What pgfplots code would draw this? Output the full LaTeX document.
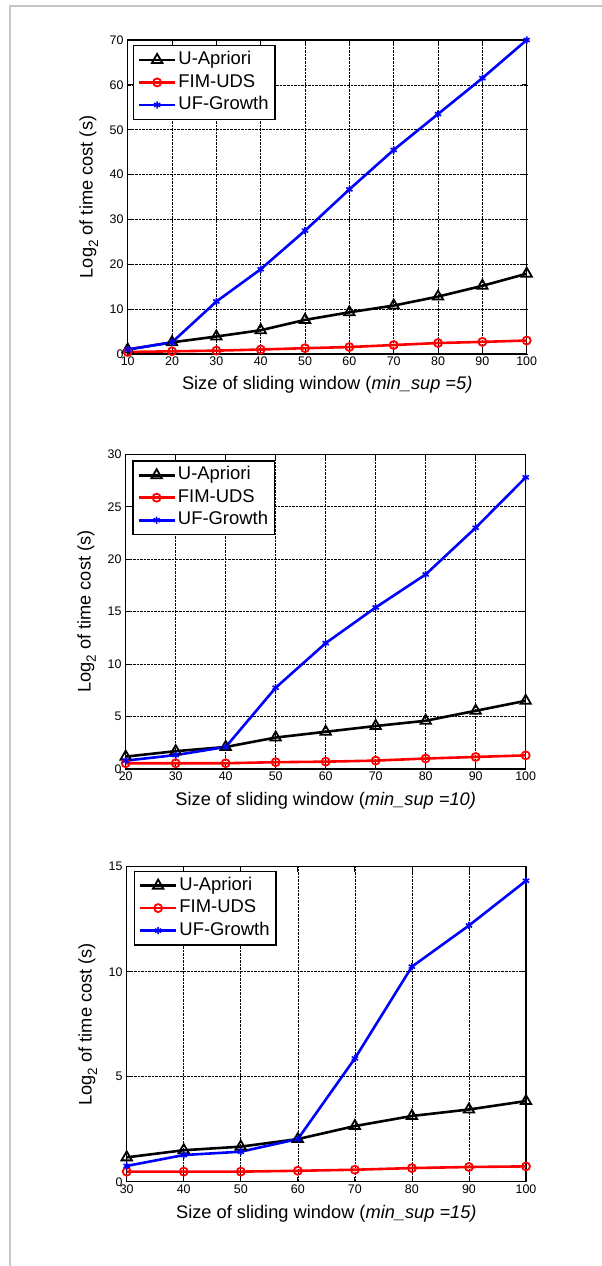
\documentclass[border=0pt]{standalone}
\usepackage{fontspec}
\setmainfont{Liberation Sans}
\usepackage{pgfplots}
\pgfplotsset{compat=1.18}
\pgfplotsset{
  myax/.style={
    scale only axis, anchor=south west, clip=false,
    grid=major, major grid style={densely dotted, black, line width=0.6bp},
    axis line style={line width=1.2bp},
    tick style={black, line width=0.8bp}, major tick length=5bp, tick align=inside,
    /pgf/number format/assume math mode=true,
    tick label style={font=\fontsize{12.5}{13}\selectfont},
    xticklabel style={anchor=north, inner sep=1bp, yshift=-2bp},
    yticklabel style={anchor=east, inner sep=1bp, xshift=-3bp},
    label style={font=\fontsize{18.3}{20}\selectfont},
    ylabel={Log\raisebox{-0.3em}{\fontsize{13.5}{13.5}\selectfont 2} of time cost (s)},
    ylabel style={at={(axis description cs:-0.088,0.5)}, anchor=base, rotate=0},
    xlabel style={anchor=base},
    legend cell align=left,
    legend style={font=\fontsize{18.5}{20}\selectfont, draw=black, line width=1.3bp, fill=white,
      inner xsep=4.5bp, inner ysep=3bp, row sep=0bp,
      nodes={inner sep=2bp, text height=14bp, text depth=4.5bp},
      anchor=north west},
    legend image code/.code={%
      \draw (0bp,0bp) -- (36bp,0bp);
      \draw[mark repeat=2,mark phase=2] plot coordinates {(0bp,0bp) (18bp,0bp) (36bp,0bp)};},
  },
  ua/.style={black, line width=2.6bp, mark=triangle, mark size=6bp, mark options={solid, line width=1.8bp}},
  fim/.style={red, line width=2.6bp, mark=o, mark size=4bp, mark options={solid, line width=1.8bp}},
  uf/.style={blue, line width=2.6bp, mark=asterisk, mark size=3.6bp, mark options={solid, line width=1.6bp}},
}
\begin{document}
\begin{tikzpicture}
\useasboundingbox (0,0) rectangle (602bp,-1266bp);
\draw[black!22, line width=1.8bp] (9.8bp,-1266bp) -- (9.8bp,-5.8bp) -- (602bp,-5.8bp);

\begin{axis}[myax, at={(127.7bp,-354bp)}, width=399bp, height=314bp,
  xmin=10, xmax=100, ymin=0, ymax=70, xtick={10,20,...,100}, ytick={0,10,...,70},
  xlabel={Size of sliding window (\textit{min\_sup =5)}},
  xlabel style={at={(axis description cs:0.5,-0.1146)}},
  legend style={at={(axis description cs:0,1)}, xshift=5bp, yshift=-5bp}]
\addplot[ua] coordinates {(10,1.0)(20,2.6)(30,3.9)(40,5.3)(50,7.6)(60,9.3)(70,10.8)(80,12.8)(90,15.2)(100,17.9)};
\addplot[fim] coordinates {(10,0.45)(20,0.6)(30,0.75)(40,1.0)(50,1.3)(60,1.55)(70,2.0)(80,2.45)(90,2.7)(100,3.0)};
\addplot[uf] coordinates {(10,1.0)(20,2.6)(30,11.7)(40,18.9)(50,27.5)(60,36.7)(70,45.5)(80,53.5)(90,61.5)(100,70)};
\legend{U-Apriori,FIM-UDS,UF-Growth}
\end{axis}

\begin{axis}[myax, at={(125.7bp,-769bp)}, width=400bp, height=314.7bp,
  xmin=20, xmax=100, ymin=0, ymax=30, xtick={20,30,...,100}, ytick={0,5,...,30},
  xlabel={Size of sliding window (\textit{min\_sup =10)}},
  xlabel style={at={(axis description cs:0.5,-0.1144)}},
  legend style={at={(axis description cs:0,1)}, xshift=6.5bp, yshift=-6bp}]
\addplot[ua] coordinates {(20,1.18)(30,1.7)(40,2.1)(50,3.0)(60,3.55)(70,4.1)(80,4.6)(90,5.55)(100,6.5)};
\addplot[fim] coordinates {(20,0.55)(30,0.55)(40,0.55)(50,0.65)(60,0.7)(70,0.8)(80,1.0)(90,1.15)(100,1.3)};
\addplot[uf] coordinates {(20,0.8)(30,1.33)(40,2.1)(50,7.75)(60,12.0)(70,15.4)(80,18.55)(90,23.0)(100,27.8)};
\legend{U-Apriori,FIM-UDS,UF-Growth}
\end{axis}

\begin{axis}[myax, at={(126.7bp,-1181.7bp)}, width=399.3bp, height=315bp,
  xmin=30, xmax=100, ymin=0, ymax=15, xtick={30,40,...,100}, ytick={0,5,...,15},
  xlabel={Size of sliding window (\textit{min\_sup =15)}},
  xlabel style={at={(axis description cs:0.5,-0.1175)}},
  legend style={at={(axis description cs:0,1)}, xshift=7bp, yshift=-4bp}]
\addplot[ua] coordinates {(30,1.16)(40,1.5)(50,1.67)(60,2.03)(70,2.65)(80,3.13)(90,3.44)(100,3.84)};
\addplot[fim] coordinates {(30,0.48)(40,0.48)(50,0.48)(60,0.52)(70,0.57)(80,0.65)(90,0.7)(100,0.73)};
\addplot[uf] coordinates {(30,0.75)(40,1.27)(50,1.43)(60,2.03)(70,5.87)(80,10.24)(90,12.2)(100,14.33)};
\legend{U-Apriori,FIM-UDS,UF-Growth}
\end{axis}
\end{tikzpicture}
\end{document}
